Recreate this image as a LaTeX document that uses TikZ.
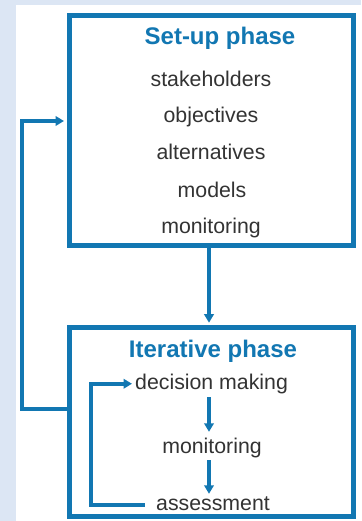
\documentclass[tikz,border=0pt]{standalone}
\usepackage{fontspec}
\setmainfont{Liberation Sans}
\usetikzlibrary{arrows.meta,calc}
\definecolor{lineblue}{HTML}{1277B2}
\definecolor{bgblue}{HTML}{DCE6F4}
\definecolor{txtgray}{HTML}{333333}
\begin{document}
\begin{tikzpicture}[x=1pt,y=-1pt,
  box/.style={draw=lineblue, line width=5pt, inner sep=0pt},
  conn/.style={draw=lineblue, line width=4.2pt},
  arr/.style={conn, -{Triangle[length=8.5pt,width=9.5pt]}},
  titletext/.style={font=\fontsize{24}{24}\selectfont\bfseries, text=lineblue, anchor=base, inner sep=0pt},
  item/.style={font=\fontsize{21.3}{21.3}\selectfont, text=txtgray, anchor=base, inner sep=0pt, text height=15pt, text depth=4.5pt},
]
\useasboundingbox (0,0) rectangle (361,521);
\fill[bgblue] (0,0) rectangle (361,521);
\fill[white] (16,5) rectangle (361,521);

% boxes
\node[box, minimum width=284pt, minimum height=229.5pt] (setup) at (211,130.25) {};
\node[box, minimum width=284pt, minimum height=188.5pt] (iter) at (211,421.75) {};

% set-up texts
\node[titletext] (t1) at (220,45) {Set-up phase};
\node[item] (s1) at (211,87) {stakeholders};
\node[item] (s2) at (211,123) {objectives};
\node[item] (s3) at (211,160) {alternatives};
\node[item] (s4) at (212,197) {models};
\node[item] (s5) at (211,233) {monitoring};

% iterative texts
\node[titletext] (t2) at (213,357) {Iterative phase};
\node[item, anchor=base west] (dm) at (135,389) {decision making};
\node[item] (mon) at (212,453) {monitoring};
\node[item] (ass) at (213,510) {assessment};

% helper coordinates
\coordinate (ax) at (209,0);
\coordinate (lx) at (91,0);
\coordinate (fbB) at (22,409);
\coordinate (fbT) at (22,121);

% connectors
\draw[arr, shorten >=2.3pt] (setup.south -| ax) -- (iter.north -| ax);
\draw[arr, shorten >=2.5pt] (fbB -| iter.west) -- (fbB) -- (fbT) -- (fbT -| setup.west);
\draw[arr] ($(dm.south -| ax)+(0,3.5)$) -- ($(mon.north -| ax)+(0,-6)$);
\draw[arr] ($(mon.south -| ax)+(0,2.5)$) -- ($(ass.north -| ax)+(0,-1)$);
\draw[arr] ($(ass.west)+(-11,0)$) -- (ass.west -| lx) -- (dm.west -| lx) -- ($(dm.west)+(-3,0)$);
\end{tikzpicture}
\end{document}
